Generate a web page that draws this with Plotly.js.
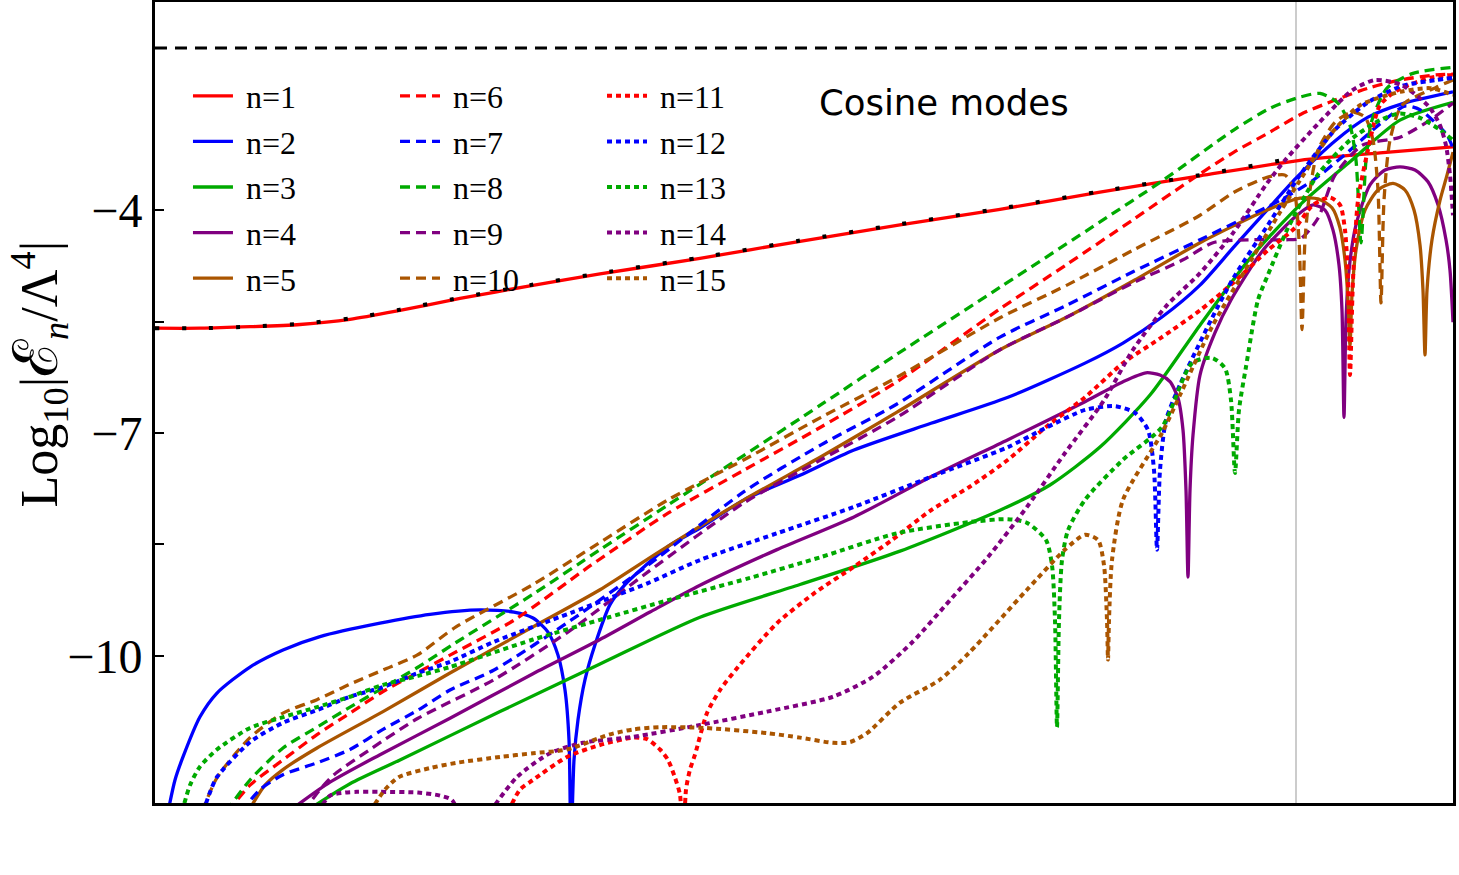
<!DOCTYPE html>
<html><head><meta charset="utf-8">
<script src="https://cdn.plot.ly/plotly-3.0.1.min.js"></script>
<style>html,body{margin:0;padding:0;background:#fff;} #chart{width:1459px;height:875px;}</style>
</head><body><div id="chart"></div>
<script>
// ---- data (x in arbitrary units, y = Log10|E_n/Lambda^4|) ----
const labels = ['n=1','n=2','n=3','n=4','n=5','n=6','n=7','n=8','n=9','n=10','n=11','n=12','n=13','n=14','n=15'];

const x1 = [0,0.45,0.95,1.45,1.95,2.45,3.05,3.75,4.45,5.45,6.45,7.45,8.45,9.45,10.45,11.45,12.25,12.98];
const y1 = [-5.59,-5.59,-5.57,-5.54,-5.47,-5.35,-5.19,-5.02,-4.86,-4.65,-4.42,-4.20,-3.99,-3.76,-3.54,-3.33,-3.23,-3.15];

const x2 = [0.13,0.20,0.28,0.45,0.62,0.95,1.28,1.65,2.25,2.75,3.25,3.59,3.78,3.93,4.03,4.10,4.14,4.16,4.19,4.23,4.30,4.40,4.55,4.70,4.90,5.15,5.45,5.89,6.45,6.99,7.76,8.53,9.30,9.68,10.07,10.45,10.78,11.12,11.41,11.80,12.13,12.47,12.98];
const y2 = [-12.1,-11.67,-11.36,-10.82,-10.50,-10.15,-9.92,-9.74,-9.56,-9.44,-9.38,-9.41,-9.49,-9.68,-9.99,-10.46,-11.13,-12.6,-11.40,-10.86,-10.32,-9.85,-9.31,-9.04,-8.79,-8.51,-8.28,-7.90,-7.57,-7.23,-6.87,-6.52,-6.06,-5.79,-5.44,-5.01,-4.51,-4.00,-3.57,-3.07,-2.75,-2.57,-2.41];

const x3 = [1.50,1.95,2.45,3.45,4.45,5.45,6.45,7.45,8.45,8.95,9.45,9.95,10.45,10.95,11.45,11.95,12.45,12.98];
const y3 = [-12.1,-11.72,-11.40,-10.75,-10.11,-9.48,-9.04,-8.59,-8.04,-7.70,-7.19,-6.49,-5.55,-4.65,-3.93,-3.35,-2.79,-2.55];

const x4 = [1.33,1.75,2.25,2.95,3.78,4.45,4.95,5.45,6.22,6.99,7.76,8.53,9.30,9.68,9.91,10.05,10.15,10.23,10.28,10.31,10.33,10.35,10.38,10.45,10.60,10.76,11.08,11.42,11.58,11.70,11.78,11.84,11.87,11.89,11.91,11.94,12.01,12.15,12.30,12.45,12.60,12.73,12.83,12.91,12.95,12.98];
const y4 = [-12.1,-11.70,-11.33,-10.84,-10.24,-9.78,-9.41,-9.05,-8.57,-8.13,-7.59,-7.09,-6.58,-6.31,-6.19,-6.22,-6.31,-6.53,-6.96,-7.77,-8.94,-7.77,-7.03,-6.22,-5.65,-5.21,-4.54,-4.07,-3.93,-4.00,-4.27,-4.74,-5.35,-6.79,-5.48,-4.81,-4.20,-3.66,-3.46,-3.42,-3.46,-3.62,-3.93,-4.40,-4.81,-5.51];

const x5 = [0.93,1.10,1.28,1.62,2.28,2.95,3.78,4.45,5.04,5.89,6.66,7.42,8.45,9.12,9.78,10.45,11.12,11.45,11.63,11.77,11.85,11.90,11.93,11.95,11.97,12.01,12.10,12.23,12.38,12.50,12.59,12.65,12.68,12.70,12.72,12.77,12.85,12.92,12.98];
const y5 = [-12.1,-11.74,-11.53,-11.24,-10.75,-10.23,-9.61,-9.11,-8.60,-7.90,-7.32,-6.72,-5.88,-5.44,-4.955,-4.44,-4.00,-3.84,-3.85,-3.97,-4.24,-4.67,-5.21,-5.82,-5.14,-4.54,-4.00,-3.73,-3.64,-3.73,-4.00,-4.47,-5.08,-5.95,-5.08,-4.40,-3.87,-3.53,-3.22];

const x6 = [0.73,0.95,1.28,1.62,1.95,2.28,2.62,2.95,3.59,4.36,5.13,5.89,6.66,7.42,8.45,9.12,9.78,10.42,10.79,11.15,11.46,11.80,12.13,12.45,12.81,12.98];
const y6 = [-12.1,-11.74,-11.40,-11.06,-10.77,-10.48,-10.23,-9.99,-9.52,-8.78,-8.08,-7.50,-6.92,-6.31,-5.33,-4.73,-4.13,-3.54,-3.22,-2.95,-2.71,-2.52,-2.36,-2.25,-2.18,-2.17];

const x7 = [0.86,1.05,1.28,1.62,1.95,2.28,2.63,2.95,3.39,4.16,4.93,5.89,6.66,7.42,8.45,9.12,9.78,10.45,10.95,11.25,11.58,11.92,12.25,12.50,12.65,12.80,12.92,12.98];
const y7 = [-12.1,-11.80,-11.60,-11.44,-11.26,-10.99,-10.73,-10.46,-10.19,-9.52,-8.78,-7.79,-7.16,-6.61,-5.71,-5.28,-4.83,-4.40,-4.07,-3.87,-3.60,-3.23,-2.84,-2.60,-2.65,-2.82,-2.99,-3.17];

const x8 = [0.71,0.95,1.28,1.62,1.95,2.28,2.62,3.01,3.78,4.45,5.13,5.89,6.66,7.42,8.45,9.45,10.08,10.79,11.15,11.45,11.65,11.83,11.95,12.01,12.06,12.11,12.17,12.32,12.58,12.98];
const y8 = [-12.1,-11.67,-11.24,-10.96,-10.69,-10.43,-10.16,-9.82,-9.17,-8.57,-7.97,-7.30,-6.62,-5.94,-5.04,-4.16,-3.60,-2.92,-2.63,-2.48,-2.43,-2.56,-2.86,-3.33,-4.44,-3.33,-2.79,-2.36,-2.16,-2.08];

const x9 = [1.48,1.65,1.79,2.15,2.63,3.39,4.16,4.93,5.89,6.66,7.42,8.45,9.12,9.78,10.28,10.58,10.95,11.30,11.46,11.63,11.80,12.07,12.45,12.75,12.98];
const y9 = [-12.1,-11.80,-11.60,-11.26,-10.84,-10.32,-9.65,-8.87,-7.94,-7.36,-6.79,-5.88,-5.44,-4.98,-4.67,-4.44,-4.40,-4.40,-4.38,-4.11,-3.53,-3.13,-3.02,-2.79,-2.56];

const x10 = [0.47,0.62,0.95,1.28,1.62,1.95,2.28,2.62,3.01,3.78,4.36,5.13,5.89,6.66,7.42,8.45,9.12,9.78,10.45,10.79,11.12,11.30,11.39,11.44,11.47,11.50,11.55,11.63,11.80,11.97,12.10,12.18,12.23,12.26,12.29,12.35,12.47,12.81,12.98];
const y10 = [-12.1,-11.64,-11.10,-10.77,-10.59,-10.38,-10.19,-9.99,-9.61,-9.04,-8.55,-7.90,-7.36,-6.79,-6.25,-5.45,-5.01,-4.54,-4.07,-3.76,-3.56,-3.53,-3.73,-4.40,-5.61,-4.40,-3.73,-3.19,-2.82,-2.68,-2.75,-3.06,-3.73,-5.25,-3.87,-3.06,-2.59,-2.35,-2.25];

const x11 = [3.53,3.65,3.78,4.12,4.45,4.78,4.92,5.05,5.13,5.20,5.25,5.28,5.31,5.35,5.40,5.52,5.65,5.83,6.22,6.60,6.99,7.37,7.76,8.14,8.53,8.91,9.30,9.68,10.07,10.45,10.79,11.13,11.40,11.58,11.75,11.85,11.90,11.93,11.95,11.98,12.03,12.13,12.25,12.42,12.75,12.98];
const y11 = [-12.1,-11.80,-11.67,-11.36,-11.20,-11.10,-11.12,-11.26,-11.40,-11.64,-11.87,-12.6,-11.80,-11.53,-11.33,-10.77,-10.46,-10.15,-9.56,-9.15,-8.80,-8.44,-8.04,-7.73,-7.36,-6.92,-6.52,-6.06,-5.71,-5.35,-4.97,-4.54,-4.24,-3.93,-3.83,-3.93,-4.27,-4.94,-6.22,-4.94,-3.87,-3.19,-2.59,-2.39,-2.22,-2.18];

const x12 = [0.48,0.56,0.62,0.95,1.28,1.62,1.95,2.28,2.63,2.95,3.39,4.16,4.93,5.45,6.22,6.99,7.76,8.53,8.91,9.30,9.60,9.80,9.93,9.99,10.02,10.05,10.11,10.25,10.56,10.79,11.13,11.45,11.80,12.13,12.47,12.81,12.98];
const y12 = [-12.1,-11.80,-11.63,-11.16,-10.90,-10.73,-10.55,-10.42,-10.23,-10.08,-9.81,-9.42,-9.02,-8.71,-8.35,-7.995,-7.59,-7.19,-6.93,-6.69,-6.64,-6.73,-6.96,-7.50,-8.57,-7.50,-6.83,-6.35,-5.48,-4.90,-4.20,-3.53,-2.92,-2.55,-2.33,-2.25,-2.22];

const x13 = [0.27,0.35,0.45,0.62,0.95,1.29,1.62,1.95,2.28,2.63,2.95,3.78,4.54,5.13,5.95,6.66,7.42,8.14,8.53,8.72,8.91,8.97,9.00,9.02,9.04,9.07,9.13,9.30,9.68,10.07,10.37,10.57,10.70,10.76,10.80,10.84,10.91,11.03,11.13,11.33,11.63,11.95,12.25,12.45,12.65,12.85,12.98];
const y13 = [-12.1,-11.74,-11.49,-11.26,-10.97,-10.82,-10.69,-10.55,-10.39,-10.27,-10.15,-9.78,-9.48,-9.25,-8.95,-8.67,-8.35,-8.20,-8.16,-8.21,-8.44,-8.78,-9.52,-10.96,-9.52,-8.71,-8.31,-7.90,-7.36,-6.92,-6.06,-5.99,-6.13,-6.56,-7.54,-6.69,-6.11,-5.21,-4.87,-4.24,-3.52,-3.06,-2.79,-2.70,-2.76,-2.92,-3.06];

const x14 = [1.63,1.75,1.90,2.02,2.25,2.63,2.85,2.97,3.03,null,3.35,3.62,3.95,4.28,4.78,5.45,6.12,6.78,7.18,7.57,7.95,8.33,8.72,9.10,9.49,9.78,10.12,10.45,10.78,11.12,11.30,11.63,11.97,12.20,12.47,12.74,12.85,12.91,12.95,12.98];
const y14 = [-12.1,-11.88,-11.84,-11.83,-11.83,-11.84,-11.88,-11.94,-12.1,null,-12.1,-11.63,-11.31,-11.17,-11.09,-10.93,-10.75,-10.55,-10.28,-9.82,-9.25,-8.67,-7.995,-7.27,-6.56,-5.88,-5.28,-4.85,-4.31,-3.64,-3.33,-2.84,-2.39,-2.25,-2.32,-2.61,-2.86,-3.13,-3.53,-4.07];

const x15 = [2.15,2.30,2.44,2.75,3.01,3.45,3.78,4.12,4.54,4.78,5.05,5.50,6.12,6.45,6.78,6.95,7.12,7.45,7.85,8.14,8.72,9.10,9.30,9.43,9.49,9.52,9.53,9.54,9.57,9.68,10.07,10.26,10.57,10.95,11.25,11.45,11.75,12.05,12.45,12.75,12.98];
const y15 = [-12.1,-11.80,-11.63,-11.51,-11.44,-11.36,-11.31,-11.26,-11.06,-10.99,-10.96,-10.97,-11.04,-11.10,-11.17,-11.16,-11.04,-10.63,-10.32,-9.96,-9.11,-8.57,-8.37,-8.44,-8.78,-9.52,-10.05,-9.52,-8.71,-7.90,-7.00,-6.46,-5.57,-4.70,-4.03,-3.60,-2.99,-2.59,-2.41,-2.36,-2.45];

// black dotted reference curve (follows n=1)
const xRef = [0,0.45,0.95,1.45,1.95,2.45,3.05,3.75,4.45,5.45,6.45,7.45,8.45,9.45,10.45,11.35];
const yRef = [-5.59,-5.59,-5.57,-5.53,-5.46,-5.34,-5.18,-5.01,-4.85,-4.64,-4.41,-4.19,-3.98,-3.75,-3.53,-3.31];
// black dashed horizontal level
const xLevel = [0, 12.98];
const yLevel = [-1.82, -1.82];
// grey vertical marker position
const xMarker = 11.41;

const yTickVals = [-10, -8.5, -7, -5.5, -4];
const yTickText = ['\u221210', '', '\u22127', '', '\u22124'];
const xRange = [0, 12.98];
const yRange = [-11.98, -1.2];

// ---- styling ----
const colors = ['#FF0000','#0000FF','#00AA00','#800080','#AA5500'];
const dashes = ['solid', '10px,6px', '5px,4px'];
const widths = [3.3, 3.3, 4];
const legendIds = ['legend','legend2','legend3'];

const xs = [x1,x2,x3,x4,x5,x6,x7,x8,x9,x10,x11,x12,x13,x14,x15];
const ys = [y1,y2,y3,y4,y5,y6,y7,y8,y9,y10,y11,y12,y13,y14,y15];

const traces = [];
for (let i = 0; i < 15; i++) {
  const g = Math.floor(i / 5);
  traces.push({
    type: 'scatter', mode: 'lines', x: xs[i], y: ys[i], name: '\u00A0' + labels[i],
    line: {color: colors[i % 5], width: widths[g], dash: dashes[g], shape:'spline', smoothing:0.7},
    connectgaps: false, legend: legendIds[g], legendgroup: 'g' + i,
    hoverinfo: 'skip'
  });
}
traces.push({type:'scatter', mode:'lines', x:xRef, y:yRef, showlegend:false,
  line:{color:'#000', width:4, dash:'4px,23px', shape:'spline', smoothing:0.7}, hoverinfo:'skip'});
traces.push({type:'scatter', mode:'lines', x:xLevel, y:yLevel, showlegend:false,
  line:{color:'#000', width:3, dash:'12px,8px'}, hoverinfo:'skip'});

const legBase = {
  xanchor:'left', yanchor:'top', y:0.917,
  font:{family:'Liberation Serif', size:32, color:'#000'},
  bgcolor:'rgba(0,0,0,0)', borderwidth:0, tracegroupgap:1.0, itemwidth:40
};

const layout = {
  width:1459, height:875,
  margin:{l:155, r:6, t:2, b:72},
  paper_bgcolor:'#fff', plot_bgcolor:'#fff',
  showlegend:true,
  legend: Object.assign({}, legBase, {x:0.0254}),
  legend2: Object.assign({}, legBase, {x:0.1849}),
  legend3: Object.assign({}, legBase, {x:0.3444}),
  xaxis:{range:xRange, showgrid:false, zeroline:false, showticklabels:false, ticks:'',
    showline:true, mirror:true, linecolor:'#000', linewidth:3},
  yaxis:{range:yRange, showgrid:false, zeroline:false, tickvals:yTickVals, ticktext:yTickText,
    ticks:'inside', ticklen:9, tickwidth:2, tickcolor:'#000',
    tickfont:{family:'Liberation Serif', size:48, color:'#000'},
    showline:true, mirror:true, linecolor:'#000', linewidth:3},
  shapes:[{type:'line', xref:'x', yref:'paper', x0:xMarker, x1:xMarker, y0:0, y1:1,
    line:{color:'#cccccc', width:2}, layer:'below'}],
  annotations:[
    {text:'Cosine modes', xref:'paper', yref:'paper', x:0.608, y:0.874, showarrow:false,
     xanchor:'center', yanchor:'middle', font:{family:'DejaVu Sans', size:35.5, color:'#000'}},
    {text:'Log<sub>10</sub>|<span style="font-size:62px">\u2130</span><sub><i>n</i></sub>/\u039B<sup>4</sup>|', xref:'paper', yref:'paper',
     x:-0.0895, y:0.536, showarrow:false, textangle:-90, xanchor:'center', yanchor:'middle',
     font:{family:'Liberation Serif', size:52, color:'#000'}}
  ]
};

Plotly.newPlot('chart', traces, layout, {displayModeBar:false, staticPlot:true});
</script></body></html>
